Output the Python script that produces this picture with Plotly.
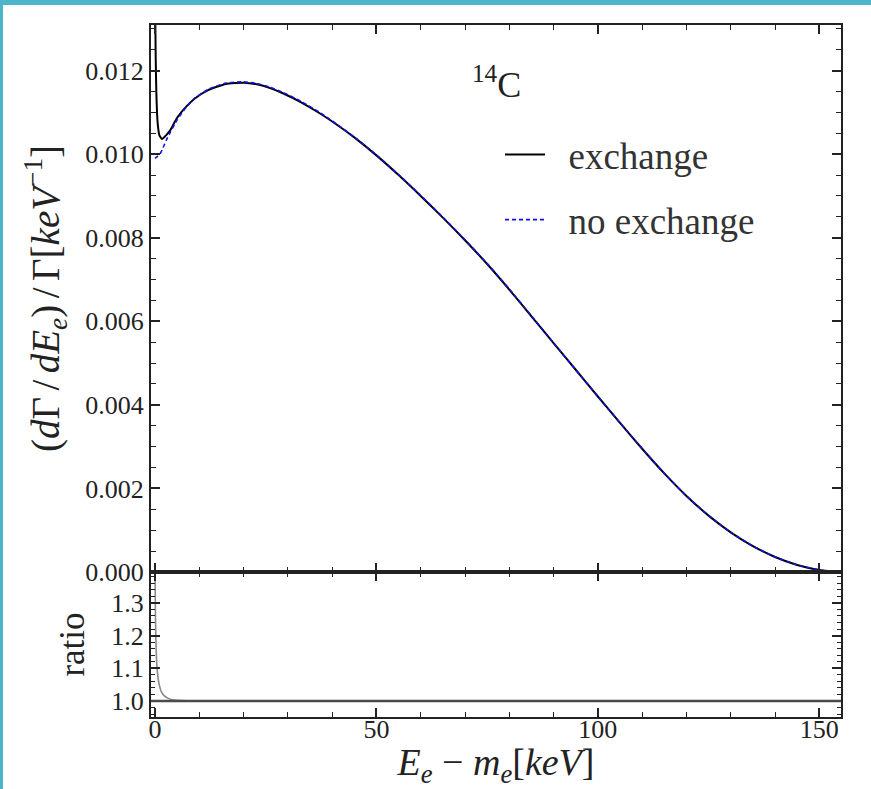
import plotly.graph_objects as go
from plotly.subplots import make_subplots

# ---- data ----
energy_kev = [0, 0.15, 0.3, 0.6, 1.0, 1.6, 2.5, 3.5, 5, 7, 9, 12, 16, 20, 23, 26, 29, 33, 37,
              41, 45, 50, 55, 60, 65, 70, 75, 80, 85, 90, 95, 100, 105, 110, 115, 120, 125,
              130, 135, 140, 145, 150, 153, 156]
spec_exchange = [0.0140, 0.0124, 0.0115, 0.01075, 0.01045, 0.01036, 0.01045, 0.01058, 0.01087,
                 0.01113, 0.01133, 0.01153, 0.01168, 0.01171, 0.01167, 0.01158, 0.01145, 0.01124,
                 0.01099, 0.01071, 0.01040, 0.00997, 0.00950, 0.00900, 0.00848, 0.00794, 0.00737,
                 0.00676, 0.00612, 0.00548, 0.00484, 0.00420, 0.00357, 0.00295, 0.00236, 0.00182,
                 0.00135, 0.00095, 0.00062, 0.00036, 0.00017, 0.00005, 0.000015, 0.0]
spec_no_exchange = [0.00990, 0.00991, 0.00992, 0.00995, 0.00998, 0.01010, 0.01032, 0.01053, 0.01082,
                    0.01112, 0.01134, 0.01155, 0.01170, 0.01173, 0.01169, 0.01160, 0.01147, 0.01126,
                    0.01101, 0.01072, 0.01041, 0.00998, 0.00951, 0.00901, 0.00849, 0.00795, 0.00738,
                    0.00677, 0.00613, 0.00548, 0.00484, 0.00420, 0.00357, 0.00295, 0.00236, 0.00182,
                    0.00135, 0.00095, 0.00062, 0.00036, 0.00017, 0.00005, 0.000015, 0.0]

ratio_energy_kev = [0, 0.1, 0.2, 0.35, 0.5, 0.75, 1.0, 1.5, 2, 3, 4, 6, 10, 156]
ratio_values = [1.40, 1.27, 1.19, 1.125, 1.095, 1.065, 1.047, 1.026, 1.017, 1.008, 1.004, 1.001, 1.0, 1.0]

spec_ticks = [0.000, 0.002, 0.004, 0.006, 0.008, 0.010, 0.012]
ratio_ticks = [1.0, 1.1, 1.2, 1.3]
energy_ticks = [0, 50, 100, 150]

label_pos_kev = 77.0      # where the nucleus label sits
label_pos_val = 0.01172

FONT = "Liberation Serif, Times New Roman, Times, serif"
FRAME = "#222222"
TEAL = "#4DB5CA"
S6 = "\u2006"   # six-per-em space
EN = "\u2002"   # en space

W, H = 871, 789
ML, MR, MT, MB = 151, 30, 25, 72
PW, PH = W - ML - MR, H - MT - MB

fig = make_subplots(rows=2, cols=1, shared_xaxes=True, vertical_spacing=0,
                    row_heights=[0.7905, 0.2095])

fig.add_trace(go.Scatter(x=energy_kev, y=spec_exchange, mode="lines", name=EN + "exchange",
                         line=dict(color="black", width=2, shape="spline", smoothing=0.5),
                         legendgroup="a"), row=1, col=1)
fig.add_trace(go.Scatter(x=energy_kev, y=spec_no_exchange, mode="lines", name=EN + "no exchange",
                         line=dict(color="#1010ee", width=1.6, dash="4px,3px", shape="spline", smoothing=0.5),
                         legendgroup="b"), row=1, col=1)
fig.add_trace(go.Scatter(x=ratio_energy_kev, y=ratio_values, mode="lines", showlegend=False,
                         line=dict(color="#8a8a8a", width=1.6, shape="spline", smoothing=0.6)),
              row=2, col=1)
fig.add_hline(y=1.0, line=dict(color="#4a4a4a", width=2.5), row=2, col=1)

axis_common = dict(showline=True, linewidth=2, linecolor=FRAME, mirror="ticks",
                   ticks="inside", ticklen=9, tickwidth=1.5, tickcolor=FRAME,
                   showgrid=False, zeroline=False,
                   tickfont=dict(family=FONT, size=26, color="#222"))

fig.update_xaxes(**axis_common, range=[-0.9, 154.9], tickvals=energy_ticks,
                 minor=dict(ticks="inside", ticklen=5, dtick=10, tick0=0, tickcolor=FRAME, tickwidth=1.2))
fig.update_xaxes(ticklabelstandoff=-12,
                 title=dict(text="<i>E</i><sub><i>e</i></sub> − <i>m</i><sub><i>e</i></sub>[<i>keV</i>]",
                            font=dict(family=FONT, size=38, color="#222"), standoff=20), row=2, col=1)

fig.update_yaxes(**axis_common, row=1, col=1, range=[0, 0.01309], tickvals=spec_ticks, tickformat=".3f",
                 minor=dict(ticks="inside", ticklen=5, dtick=0.0005, tick0=0, tickcolor=FRAME, tickwidth=1.2),
                 title=dict(text="(<i>d</i>Γ" + S6 + "/" + S6 + "<i>dE</i><sub><i>e</i></sub>)" + S6 + "/" + S6
                                 + "Γ[<i>keV</i><sup>−1</sup>]",
                            font=dict(family=FONT, size=39, color="#222"), standoff=14))
fig.update_yaxes(**axis_common, row=2, col=1, range=[0.951, 1.3945], tickvals=ratio_ticks, tickformat=".1f",
                 minor=dict(ticks="inside", ticklen=4, dtick=0.02, tick0=1.0, tickcolor=FRAME, tickwidth=1),
                 title=dict(text="ratio", font=dict(family=FONT, size=35, color="#222"), standoff=16))

def px_x(p):
    return (p - ML) / PW

def px_y(p):
    return (H - MB - p) / PH

# teal frame of the original picture (top and left edges)
fig.add_shape(type="rect", xref="paper", yref="paper", x0=px_x(-5), x1=px_x(W + 5), y0=px_y(5), y1=px_y(-20),
              fillcolor=TEAL, line=dict(width=0), layer="above")
fig.add_shape(type="rect", xref="paper", yref="paper", x0=px_x(-5), x1=px_x(3), y0=px_y(H + 5), y1=px_y(-20),
              fillcolor=TEAL, line=dict(width=0), layer="above")

fig.update_layout(
    width=W, height=H,
    margin=dict(l=ML, r=MR, t=MT, b=MB, autoexpand=False),
    plot_bgcolor="white", paper_bgcolor="white",
    font=dict(family=FONT, color="#222"),
    legend=dict(x=px_x(500), y=px_y(124), xanchor="left", yanchor="top",
                bgcolor="rgba(0,0,0,0)", font=dict(family=FONT, size=37, color="#333"),
                tracegroupgap=14, itemwidth=40),
    annotations=[dict(x=label_pos_kev, y=label_pos_val, xref="x", yref="y", text="<sup>14</sup>C",
                      showarrow=False, font=dict(family=FONT, size=36, color="#222"))],
)

fig.write_html("out.html", config={"displayModeBar": False},
               post_script="document.body.style.margin='0';document.body.style.padding='0';")
